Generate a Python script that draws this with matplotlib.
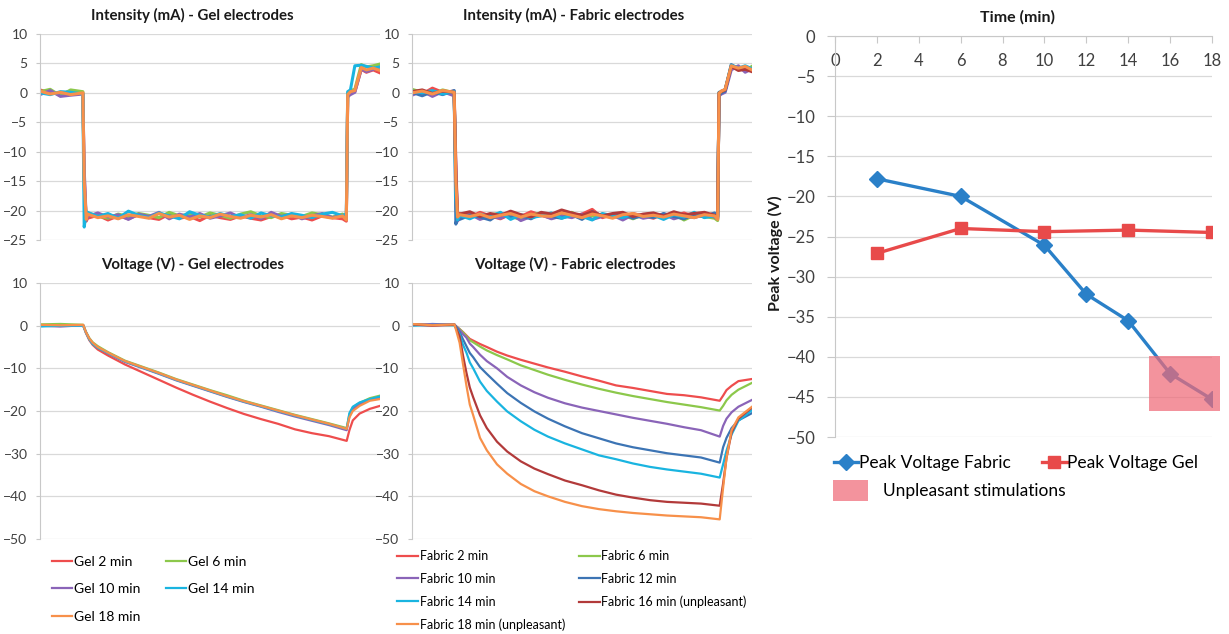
import matplotlib
matplotlib.use("Agg")
import matplotlib.pyplot as plt
from matplotlib.patches import Patch, Rectangle

plt.rcParams["font.family"] = ["Lato", "DejaVu Sans"]

# ---- intensity, gel electrodes (mA) ----
gel_int_x = [0, 3, 6, 9, 12.6, 13.0, 13.6,
             14, 17, 20, 23, 26, 29, 32, 35, 38, 41, 44, 47, 50, 53, 56, 59, 62,
             65, 68, 71, 74, 77, 80, 83, 86, 89,
             90.1, 90.5, 91.3, 92.6, 94.5, 96, 98, 100]
gel_int_2 = [0.5, 0.0, -0.2, 0.3, 0.1, -14, -21.8,
             -21.3, -20.8, -21.6, -20.9, -21.4, -20.7, -21.2, -21.5, -20.6, -21.3, -21.0, -21.7, -20.8,
             -21.2, -21.5, -20.9, -21.3, -21.6, -21.0, -20.8, -21.4, -21.1, -21.6, -20.9, -21.2, -21.4,
             -21.8, -0.8, 0.0, 0.2, 4.0, 3.5, 3.9, 3.4]
gel_int_6 = [0.2, 0.6, -0.5, 0.5, 0.2, -16, -21.2,
             -20.4, -20.9, -21.3, -20.6, -21.0, -20.5, -20.8, -21.2, -20.3, -20.9, -20.6, -21.1, -20.4,
             -20.8, -21.3, -20.6, -20.2, -20.9, -21.2, -20.5, -20.8, -21.0, -20.4, -20.7, -21.1, -20.6,
             -21.2, 0.0, 0.4, 0.6, 4.8, 4.4, 4.6, 4.9]
gel_int_10 = [-0.3, 0.4, -0.6, -0.4, -0.2, -13, -21.6,
              -21.0, -20.4, -21.1, -20.7, -21.5, -20.6, -21.0, -20.3, -21.4, -20.6, -21.1, -20.5, -21.3,
              -20.9, -20.4, -21.2, -20.7, -21.4, -20.3, -21.0, -20.6, -21.4, -20.9, -20.5, -21.2, -20.8,
              -21.4, -0.6, -0.3, 0.1, 4.1, 3.6, 4.0, 4.4]
gel_int_14 = [0.0, -0.3, 0.2, 0.1, -0.2, -22.8, -20.2,
              -20.3, -21.0, -20.5, -21.3, -20.1, -20.8, -21.2, -20.4, -20.9, -21.4, -20.2, -20.8, -21.1,
              -20.5, -21.0, -20.7, -21.3, -20.4, -20.9, -21.1, -20.5, -20.8, -21.2, -20.6, -20.3, -20.9,
              -20.5, 0.2, 0.5, 4.6, 4.7, 4.5, 4.2, 4.4]
gel_int_18 = [0.3, -0.2, 0.1, -0.3, 0.0, -15, -21.5,
              -20.6, -21.2, -20.9, -21.4, -20.7, -21.0, -21.3, -20.5, -21.1, -20.8, -21.5, -20.9, -21.2,
              -20.6, -21.0, -21.3, -20.8, -21.1, -20.7, -21.4, -20.9, -21.2, -20.8, -21.0, -21.3, -20.9,
              -21.6, -0.3, 0.2, 0.4, 4.3, 3.9, 4.2, 3.8]

# ---- intensity, fabric electrodes (mA) ----
fab_int_x = [0, 3, 6, 9, 12.4, 12.9, 13.4,
             14, 17, 20, 23, 26, 29, 32, 35, 38, 41, 44, 47, 50, 53, 56, 59, 62,
             65, 68, 71, 74, 77, 80, 83, 86, 89,
             89.9, 90.3, 91.0, 92.1, 93.9, 96, 98, 100]
fab_int_2 = [0.4, -0.2, 0.8, 0.1, 0.3, -12, -21.3,
             -20.5, -21.1, -20.3, -20.9, -21.4, -20.6, -21.0, -20.2, -20.8, -21.3, -20.4, -21.0, -20.6,
             -19.8, -21.2, -20.7, -21.1, -20.5, -20.9, -21.3, -20.6, -21.0, -20.4, -21.1, -20.8, -20.5,
             -21.5, -0.2, 0.3, 0.5, 4.4, 4.0, 4.3, 3.9]
fab_int_6 = [0.6, 0.1, -0.3, 0.5, 0.0, -16, -20.8,
             -20.9, -20.4, -21.2, -20.7, -20.5, -21.0, -21.5, -20.8, -20.4, -21.1, -20.7, -20.3, -21.3,
             -20.9, -20.6, -21.2, -20.8, -21.4, -20.7, -20.5, -21.1, -20.6, -21.6, -20.8, -21.0, -21.3,
             -21.7, 0.0, 0.1, 0.4, 4.6, 4.3, 3.8, 4.5]
fab_int_10 = [-0.4, 0.3, -0.6, 0.2, -0.5, -13, -21.8,
              -21.2, -20.6, -21.5, -20.9, -21.3, -20.5, -21.7, -21.0, -20.7, -21.4, -20.9, -21.2, -20.6,
              -21.5, -21.0, -20.8, -21.6, -20.7, -21.3, -21.0, -20.6, -21.4, -20.9, -21.2, -20.7, -21.1,
              -21.4, -0.5, -0.2, 0.1, 3.9, 4.6, 3.5, 4.1]
fab_int_12 = [0.1, -0.5, 0.2, -0.3, 0.4, -22.3, -21.0,
              -21.5, -20.8, -21.1, -21.6, -20.4, -21.2, -20.9, -21.4, -20.5, -21.0, -21.3, -20.7, -21.5,
              -20.2, -20.9, -21.1, -20.6, -21.3, -20.8, -21.2, -20.5, -21.0, -21.4, -20.6, -21.1, -20.4,
              -21.2, -0.4, 0.0, 0.3, 4.8, 4.1, 4.4, 4.0]
fab_int_14 = [0.3, 0.0, 0.4, -0.2, 0.2, -18, -21.6,
              -20.8, -21.4, -20.6, -21.0, -20.3, -21.5, -20.7, -21.2, -20.9, -20.4, -21.3, -20.8, -21.0,
              -21.6, -20.5, -20.9, -21.2, -20.6, -21.0, -20.8, -21.5, -20.7, -21.1, -20.3, -21.2, -20.9,
              -21.0, 0.1, 0.2, 0.6, 4.7, 4.2, 4.6, 4.1]
fab_int_16 = [0.2, 0.5, -0.1, 0.3, 0.1, -14, -21.0,
              -20.6, -20.2, -21.0, -20.5, -20.8, -20.1, -20.7, -21.1, -20.3, -20.6, -19.9, -20.4, -20.8,
              -20.2, -20.9, -20.5, -20.3, -21.0, -20.6, -20.4, -20.9, -20.2, -20.7, -20.5, -20.3, -20.8,
              -21.0, 0.0, 0.2, 0.5, 4.5, 3.8, 4.0, 3.6]
fab_int_18 = [0.0, 0.3, -0.2, 0.4, 0.1, -15, -21.1,
              -20.7, -21.0, -20.6, -21.2, -20.8, -20.5, -21.1, -20.6, -20.9, -21.0, -20.4, -20.8, -21.2,
              -20.6, -20.9, -21.3, -20.7, -20.5, -21.0, -20.8, -21.1, -20.6, -20.9, -21.2, -20.7, -20.9,
              -21.5, -0.1, 0.3, 0.6, 4.6, 4.2, 4.5, 3.9]

# ---- voltage, gel electrodes (V) ----
gel_v_x = [0, 6, 12.7, 13.5, 14.5, 15.5, 17, 20, 25, 30, 35, 40, 45, 50, 55, 60,
           65, 70, 75, 80, 85, 90.2, 91, 92, 94, 97, 100]
gel_v_2 = [0.1, 0.0, 0.1, -1.7, -3.4, -4.5, -5.6, -7.0, -9.1, -10.9, -12.7, -14.5, -16.2, -17.8, -19.3, -20.7,
           -21.9, -23.0, -24.3, -25.2, -25.9, -27.0, -24.5, -22.2, -20.6, -19.5, -18.8]
gel_v_6 = [0.3, 0.4, 0.2, -1.4, -2.9, -3.9, -4.8, -6.2, -8.2, -9.6, -11.0, -12.5, -13.8, -15.1, -16.3, -17.6,
           -18.7, -19.8, -20.9, -21.9, -22.9, -24.0, -20.8, -19.2, -18.1, -17.0, -16.4]
gel_v_10 = [0.0, -0.2, 0.1, -1.5, -3.1, -4.2, -5.1, -6.5, -8.5, -9.9, -11.3, -12.8, -14.1, -15.4, -16.7, -17.9,
            -19.0, -20.2, -21.3, -22.3, -23.3, -24.5, -21.3, -19.6, -18.4, -17.4, -16.9]
gel_v_14 = [-0.2, 0.0, 0.0, -1.6, -3.2, -4.3, -5.2, -6.4, -8.4, -9.8, -11.2, -12.7, -14.0, -15.3, -16.6, -17.8,
            -18.9, -20.0, -21.1, -22.1, -23.1, -24.2, -20.5, -19.0, -18.0, -17.2, -16.6]
gel_v_18 = [0.2, 0.1, 0.2, -1.5, -3.0, -4.0, -5.0, -6.3, -8.3, -9.7, -11.1, -12.6, -13.9, -15.2, -16.5, -17.7,
            -18.8, -19.9, -21.0, -22.0, -23.0, -24.2, -21.5, -20.0, -18.8, -17.6, -17.2]

# ---- voltage, fabric electrodes (V) ----
fab_v_x = [0, 6, 12.5, 14, 15, 16, 17, 18, 20, 22, 25, 28, 32, 36, 40, 45, 50, 55, 60,
           65, 70, 75, 80, 85, 90.5, 91.5, 92.5, 94, 96, 100]
fab_v_2 = [0.3, 0.2, 0.2, -0.8, -1.5, -2.3, -3.1, -3.5, -4.3, -5.0, -6.1, -7.0, -8.0, -8.9, -9.8, -10.8, -11.9, -12.9, -14.0,
           -14.6, -15.3, -16.0, -16.3, -16.8, -17.6, -16.4, -15.1, -14.1, -13.0, -12.5]
fab_v_6 = [0.2, 0.3, 0.1, -0.8, -1.6, -2.5, -3.4, -3.9, -4.9, -5.8, -6.9, -7.9, -9.3, -10.4, -11.5, -12.7, -13.8, -14.8, -15.7,
           -16.5, -17.2, -17.9, -18.5, -19.1, -19.9, -18.8, -17.5, -16.2, -15.0, -13.4]
fab_v_10 = [0.1, 0.4, 0.2, -1.0, -2.0, -2.8, -4.2, -5.0, -6.8, -8.3, -10.0, -12.0, -14.0, -15.6, -16.9, -18.2, -19.2, -20.0, -20.8,
            -21.6, -22.3, -23.0, -23.8, -24.5, -26.0, -23.5, -21.8, -20.3, -19.0, -17.4]
fab_v_12 = [0.2, 0.1, 0.3, -1.5, -3.2, -4.8, -6.4, -7.4, -9.7, -11.3, -13.6, -15.8, -18.1, -20.1, -21.8, -23.6, -25.2, -26.4, -27.6,
            -28.5, -29.2, -29.9, -30.4, -30.9, -32.1, -28.5, -26.3, -24.0, -22.2, -20.5]
fab_v_14 = [0.0, 0.2, 0.1, -2.0, -4.5, -6.3, -8.6, -10.0, -13.1, -15.3, -17.8, -20.1, -22.4, -24.4, -26.0, -27.6, -29.0, -30.4, -31.3,
            -32.3, -33.1, -33.7, -34.2, -34.7, -35.6, -32.5, -29.3, -25.5, -22.3, -19.8]
fab_v_16 = [0.3, 0.0, 0.2, -2.5, -7.0, -11.0, -14.5, -16.8, -21.0, -24.0, -27.2, -29.5, -31.8, -33.5, -34.8, -36.3, -37.4, -38.6, -39.6,
            -40.3, -40.9, -41.3, -41.5, -41.7, -42.2, -37.0, -31.0, -25.0, -21.8, -19.2]
fab_v_18 = [0.4, 0.1, 0.3, -4.0, -9.0, -14.0, -18.5, -21.0, -26.3, -29.2, -32.5, -34.7, -37.1, -38.8, -40.0, -41.3, -42.3, -43.0, -43.5,
            -43.9, -44.2, -44.5, -44.7, -44.9, -45.4, -38.0, -31.0, -24.5, -21.5, -19.0]

# ---- peak voltage vs time ----
time_fabric = [2, 6, 10, 12, 14, 16, 18]
peak_fabric = [-17.8, -20.0, -26.1, -32.2, -35.5, -42.1, -45.3]
time_gel = [2, 6, 10, 14, 18]
peak_gel = [-27.1, -24.0, -24.4, -24.2, -24.5]
unpleasant_t = (15.0, 18.4)
unpleasant_v = (-46.8, -39.9)

C_RED, C_GREEN, C_PURPLE = "#ee4d4d", "#8cc84b", "#8a64b8"
C_BLUE, C_CYAN, C_DRED, C_ORANGE = "#3c74b4", "#19b4e0", "#b23a3a", "#f7904a"

gel_names = ["Gel 2 min", "Gel 6 min", "Gel 10 min", "Gel 14 min", "Gel 18 min"]
gel_colors = [C_RED, C_GREEN, C_PURPLE, C_CYAN, C_ORANGE]
fab_names = ["Fabric 2 min", "Fabric 6 min", "Fabric 10 min", "Fabric 12 min",
             "Fabric 14 min", "Fabric 16 min (unpleasant)", "Fabric 18 min (unpleasant)"]
fab_colors = [C_RED, C_GREEN, C_PURPLE, C_BLUE, C_CYAN, C_DRED, C_ORANGE]

W, H = 1229, 634
fig = plt.figure(figsize=(W / 100, H / 100), dpi=100)


def px_axes(x0, y0, x1, y1):
    return fig.add_axes([x0 / W, 1 - y1 / H, (x1 - x0) / W, (y1 - y0) / H])


def excel_style(ax, lo, hi, step):
    ax.set_xlim(0, 100)
    ax.set_ylim(lo, hi)
    ax.set_yticks(range(lo, hi + 1, step))
    ax.set_xticks([])
    for s in ["top", "right", "bottom"]:
        ax.spines[s].set_visible(False)
    ax.spines["left"].set_color("#c8c8c8")
    ax.grid(axis="y", color="#d9d9d9", lw=0.9)
    ax.set_axisbelow(True)
    ax.tick_params(axis="y", length=3, color="#c8c8c8", labelsize=10,
                   labelcolor="#404040", pad=6)


def fig_title(x, y, s, size=10.8):
    fig.text(x / W, 1 - y / H, s, ha="center", va="center",
             fontsize=size, fontweight="bold", color="#1a1a1a")


# top left
ax0 = px_axes(40, 34, 380, 240)
excel_style(ax0, -25, 10, 5)
for y, c in zip([gel_int_2, gel_int_6, gel_int_10, gel_int_14, gel_int_18], gel_colors):
    ax0.plot(gel_int_x, y, color=c, lw=2.2)
fig_title(192, 15, "Intensity (mA) - Gel electrodes")

# top middle
ax1 = px_axes(412, 34, 752, 240)
excel_style(ax1, -25, 10, 5)
for y, c in zip([fab_int_2, fab_int_6, fab_int_10, fab_int_12, fab_int_14, fab_int_16, fab_int_18],
                fab_colors):
    ax1.plot(fab_int_x, y, color=c, lw=2.2)
fig_title(574, 15, "Intensity (mA) - Fabric electrodes")

# bottom left
ax2 = px_axes(40, 283, 380, 539)
excel_style(ax2, -50, 10, 10)
gel_lines = []
for y, c, n in zip([gel_v_2, gel_v_6, gel_v_10, gel_v_14, gel_v_18], gel_colors, gel_names):
    gel_lines += ax2.plot(gel_v_x, y, color=c, lw=1.6, label=n)
fig_title(193, 264, "Voltage (V) - Gel electrodes")

# bottom middle
ax3 = px_axes(412, 283, 752, 539)
excel_style(ax3, -50, 10, 10)
fab_lines = []
for y, c, n in zip([fab_v_2, fab_v_6, fab_v_10, fab_v_12, fab_v_14, fab_v_16, fab_v_18],
                   fab_colors, fab_names):
    fab_lines += ax3.plot(fab_v_x, y, color=c, lw=1.6, label=n)
fig_title(575, 264, "Voltage (V) - Fabric electrodes")

# legends (row-wise order like Excel -> column-major for matplotlib)
order = [0, 2, 4, 1, 3]
fig.legend([gel_lines[i] for i in order], [gel_names[i] for i in order],
           loc="upper left", bbox_to_anchor=(52 / W, 1 - 556 / H), ncol=2,
           frameon=False, fontsize=10, handlelength=1.45, handletextpad=0.1,
           labelspacing=1.1, columnspacing=1.9, borderpad=0, borderaxespad=0)
order = [0, 2, 4, 6, 1, 3, 5]
fig.legend([fab_lines[i] for i in order], [fab_names[i] for i in order],
           loc="upper left", bbox_to_anchor=(397 / W, 1 - 550 / H), ncol=2,
           frameon=False, fontsize=9, handlelength=1.7, handletextpad=0.1,
           labelspacing=0.86, columnspacing=1.1, borderpad=0, borderaxespad=0)

# right: peak voltage
axr = px_axes(835, 36, 1212, 437)
axr.set_xlim(0, 18)
axr.set_ylim(-50, 0)
axr.set_xticks(range(0, 19, 2))
axr.set_yticks(range(-50, 1, 5))
for s in ["top", "right"]:
    axr.spines[s].set_visible(False)
axr.spines["bottom"].set_position(("data", 0))
axr.spines["bottom"].set_color("#c8c8c8")
axr.spines["left"].set_color("#c8c8c8")
axr.grid(axis="y", color="#d9d9d9", lw=0.9)
axr.set_axisbelow(True)
axr.tick_params(axis="x", length=5, color="#c8c8c8", labelsize=12, labelcolor="#404040", pad=7)
axr.tick_params(axis="y", length=6, color="#c8c8c8", labelsize=12, labelcolor="#404040", pad=8)
lf, = axr.plot(time_fabric, peak_fabric, color="#2a80c8", lw=2.4, marker="D",
               markersize=8, label="Peak Voltage Fabric", zorder=3)
lg, = axr.plot(time_gel, peak_gel, color="#e84a4a", lw=2.4, marker="s",
               markersize=9, label="Peak Voltage Gel", zorder=3)
axr.add_patch(Rectangle((unpleasant_t[0], unpleasant_v[0]),
                        unpleasant_t[1] - unpleasant_t[0], unpleasant_v[1] - unpleasant_v[0],
                        facecolor="#ef6a78", alpha=0.72, edgecolor="none",
                        zorder=4, clip_on=False))
fig.text(1018 / W, 1 - 17 / H, "Time (min)", ha="center", va="center",
         fontsize=11.5, fontweight="bold", color="#1a1a1a")
fig.text(775 / W, 1 - 253 / H, "Peak voltage (V)", ha="center", va="center",
         rotation=90, fontsize=11.5, fontweight="bold", color="#1a1a1a")

fig.legend([lf, lg], ["Peak Voltage Fabric", "Peak Voltage Gel"],
           loc="upper left", bbox_to_anchor=(834 / W, 1 - 455 / H), ncol=2,
           frameon=False, fontsize=12.5, handlelength=1.4, handletextpad=0.05,
           columnspacing=1.8, borderpad=0, borderaxespad=0)
fig.legend([Patch(facecolor="#ef6a78", alpha=0.72)], ["Unpleasant stimulations"],
           loc="upper left", bbox_to_anchor=(833 / W, 1 - 480 / H),
           frameon=False, fontsize=12.5, handlelength=2.0, handleheight=1.45,
           handletextpad=0.9, borderpad=0, borderaxespad=0)

fig.savefig("out.png", dpi=100)
